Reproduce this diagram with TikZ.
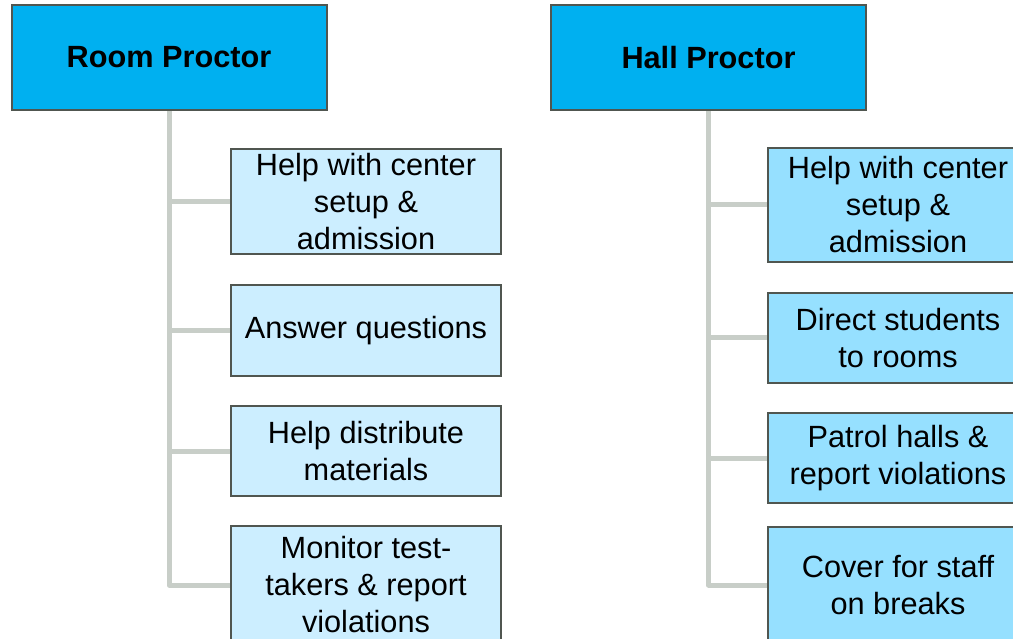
\documentclass[tikz,border=0pt]{standalone}
\usepackage{fontspec}
\setmainfont{Liberation Sans}
\usetikzlibrary{backgrounds}
\definecolor{headblue}{RGB}{0,176,240}
\definecolor{roomtask}{RGB}{204,238,255}
\definecolor{halltask}{RGB}{150,224,255}
\definecolor{boxline}{RGB}{80,86,80}
\definecolor{linkgray}{RGB}{200,206,200}

\newcommand{\boxfont}{\fontsize{30.7}{37}\selectfont}

\tikzset{
  head/.style={draw=boxline, line width=2pt, fill=headblue, font=\boxfont\bfseries,
    minimum width=315pt, minimum height=105pt, inner sep=0pt},
  task/.style={draw=boxline, line width=2pt, align=center, inner sep=0pt,
    minimum width=270pt, font=\boxfont},
  link/.style={linkgray, line width=5pt, line join=round}
}

\begin{document}
\begin{tikzpicture}[x=1pt, y=-1pt]
        \useasboundingbox (0,0) rectangle (1013,639);
        \clip (0,0) rectangle (1013,639);

        % Heads
        \node [head] (room) at (169,57.5) {Room Proctor};
        \node [head] (hall) at (708.5,57.5) {Hall Proctor};

        % Room proctor tasks
        \node [task, fill=roomtask, minimum height=105pt] (r1) at (366,201.5) {Help with center\\setup \&\\admission};
        \node [task, fill=roomtask, minimum height=91pt] (r2) at (366,330.5) {Answer questions};
        \node [task, fill=roomtask, minimum height=90pt] (r3) at (366,451) {Help distribute\\materials};
        \node [task, fill=roomtask, minimum height=118pt] (r4) at (366,585) {Monitor test-\\takers \& report\\violations};

        % Hall proctor tasks
        \node [task, fill=halltask, minimum width=260pt, minimum height=114pt] (h1) at (898,205) {Help with center\\setup \&\\admission};
        \node [task, fill=halltask, minimum width=260pt, minimum height=90pt] (h2) at (898,338) {Direct students\\to rooms};
        \node [task, fill=halltask, minimum width=260pt, minimum height=90pt] (h3) at (898,458) {Patrol halls \&\\report violations};
        \node [task, fill=halltask, minimum width=260pt, minimum height=116pt] (h4) at (898,585) {Cover for staff\\on breaks};

        % Links
        \begin{pgfonlayer}{background}
          \foreach \t in {r1,r2,r3,r4}
            \draw [link] (room.south) |- (\t.west);
          \foreach \t in {h1,h2,h3,h4}
            \draw [link] (hall.south) |- (\t.west);
        \end{pgfonlayer}
    \end{tikzpicture}
\end{document}
